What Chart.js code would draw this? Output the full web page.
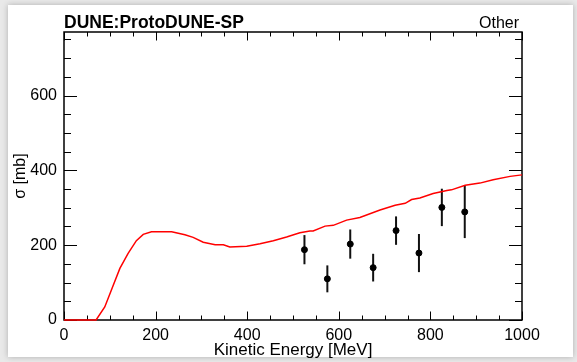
<!DOCTYPE html>
<html>
<head>
<meta charset="utf-8">
<script src="https://cdn.jsdelivr.net/npm/chart.js@4.4.1/dist/chart.umd.min.js"></script>
<style>
  html, body { margin: 0; padding: 0; background: #e9e9e9; width: 577px; height: 362px; overflow: hidden; }
  #card { position: absolute; left: 8px; top: 5px; right: 4px; bottom: 5px; background: #fff; box-shadow: 0 0 6px rgba(0,0,0,0.25); }
  #plot { position: absolute; left: 0; top: 0; }
</style>
</head>
<body>
<div id="card"></div>
<canvas id="plot" width="577" height="362"></canvas>
<script>
// model prediction (red curve)
const curveEnergy = [0, 70, 89, 105, 122, 140, 158, 173, 191, 235, 264, 282, 304, 330, 348, 362, 399, 428, 457, 486,
    515, 537, 544, 570, 588, 617, 646, 690, 723, 745, 759, 777, 806, 836, 846, 876, 908, 937, 974, 1000];
const curveSigma = [0, 0, 35, 85, 138, 178, 212, 229, 236, 236, 228, 221, 208, 201, 201, 195, 197, 204, 212, 222,
    233, 238, 238, 251, 253, 267, 274, 294, 307, 312, 322, 326, 338, 346, 348, 360, 366, 375, 384, 388];

// measured points
const dataEnergy = [525, 575, 625, 675, 725, 775, 825, 875];
const dataSigma = [188, 110, 203, 140, 239, 179, 301, 289];
const dataError = [39, 36, 39, 37, 38, 51, 50, 70];

const xTickValues = [0, 200, 400, 600, 800, 1000];
const yTickValues = [0, 200, 400, 600];
const minorStep = 50;

const FONT = '"Liberation Sans", Arial, Helvetica, sans-serif';

const rootFrame = {
    id: 'rootFrame',
    beforeDatasetsDraw(chart) {
        const {ctx, chartArea: a, scales: {x, y}} = chart;
        ctx.save();
        ctx.strokeStyle = '#000';
        ctx.lineWidth = 1;
        // minor + major ticks, pointing inwards on all four sides
        for (let v = x.min; v <= x.max; v += minorStep) {
            const px = Math.round(x.getPixelForValue(v)) + 0.5;
            const len = xTickValues.includes(v) ? 8.5 : 4.5;
            ctx.beginPath();
            ctx.moveTo(px, a.bottom); ctx.lineTo(px, a.bottom - len);
            ctx.moveTo(px, a.top); ctx.lineTo(px, a.top + len);
            ctx.stroke();
        }
        for (let v = 0; v <= y.max; v += minorStep) {
            const py = Math.round(y.getPixelForValue(v)) + 0.5;
            const len = yTickValues.includes(v) ? 13 : 7;
            ctx.beginPath();
            ctx.moveTo(a.left, py); ctx.lineTo(a.left + len, py);
            ctx.moveTo(a.right, py); ctx.lineTo(a.right - len, py);
            ctx.stroke();
        }
        ctx.lineWidth = 1.5;
        ctx.strokeRect(a.left, a.top, a.right - a.left, a.bottom - a.top);

        // error bars of the data points
        ctx.lineWidth = 2;
        ctx.strokeStyle = '#111';
        dataEnergy.forEach((e, i) => {
            const px = x.getPixelForValue(e);
            ctx.beginPath();
            ctx.moveTo(px, y.getPixelForValue(dataSigma[i] - dataError[i]));
            ctx.lineTo(px, y.getPixelForValue(dataSigma[i] + dataError[i]));
            ctx.stroke();
        });

        // header texts
        ctx.fillStyle = '#000';
        ctx.textBaseline = 'alphabetic';
        ctx.font = 'bold 17.5px ' + FONT;
        ctx.textAlign = 'left';
        ctx.fillText('DUNE:ProtoDUNE-SP', a.left, 28);
        ctx.font = '16px ' + FONT;
        ctx.textAlign = 'right';
        ctx.fillText('Other', a.right - 3, 28);
        ctx.restore();
    }
};

const ctx = document.getElementById('plot').getContext('2d');
new Chart(ctx, {
    type: 'scatter',
    data: {
        datasets: [
            {
                label: 'Data',
                data: dataEnergy.map((e, i) => ({x: e, y: dataSigma[i]})),
                backgroundColor: '#000',
                borderColor: '#000',
                pointRadius: 3,
                showLine: false,
                clip: 6
            },
            {
                label: 'Other',
                data: curveEnergy.map((e, i) => ({x: e, y: curveSigma[i]})),
                borderColor: '#ff0000',
                borderWidth: 1.5,
                pointRadius: 0,
                showLine: true,
                tension: 0,
                clip: 4
            }
        ]
    },
    options: {
        responsive: false,
        animation: false,
        layout: { padding: { left: 0, right: 55, top: 32, bottom: 0 } },
        plugins: {
            legend: { display: false },
            tooltip: { enabled: false }
        },
        scales: {
            x: {
                type: 'linear',
                min: 0,
                max: 1000,
                afterFit: s => { s.height = 42; },
                afterBuildTicks: s => { s.ticks = xTickValues.map(v => ({value: v})); },
                grid: { display: false, drawTicks: false },
                border: { display: false },
                ticks: { color: '#000', font: { family: FONT, size: 16 }, padding: 6, maxRotation: 0,
                    callback: v => String(v) },
                title: { display: true, text: 'Kinetic Energy [MeV]', color: '#000',
                    font: { family: FONT, size: 17 }, align: 'center', padding: { bottom: 1 } }
            },
            y: {
                type: 'linear',
                min: 0,
                max: 770,
                afterFit: s => { s.width = 64; },
                afterBuildTicks: s => { s.ticks = yTickValues.map(v => ({value: v})); },
                grid: { display: false, drawTicks: false },
                border: { display: false },
                ticks: { color: '#000', font: { family: FONT, size: 16 }, padding: 7,
                    callback: v => String(v) },
                title: { display: true, text: 'σ [mb]', color: '#000',
                    font: { family: FONT, size: 16 }, padding: { top: 11 } }
            }
        }
    },
    plugins: [rootFrame]
});
</script>
</body>
</html>
